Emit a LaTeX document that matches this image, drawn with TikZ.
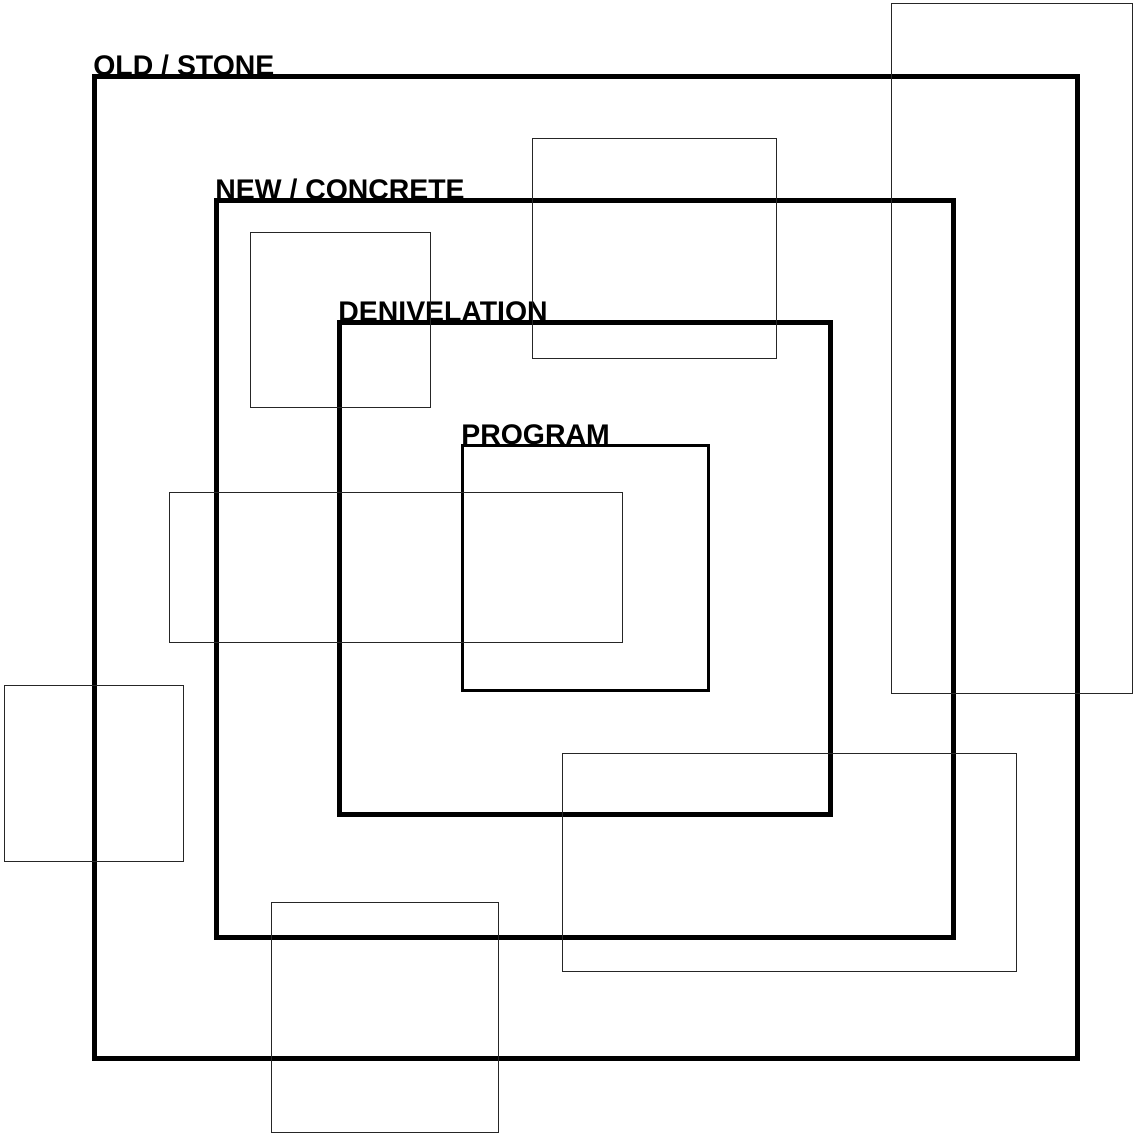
\documentclass[tikz,border=0pt]{standalone}
\usepackage{fontspec}
\setmainfont{Liberation Sans}
\begin{document}
\begin{tikzpicture}[x=0.5pt, y=-0.5pt,
  layerbox/.style={line width=2.5pt},
  progbox/.style={line width=1.5pt},
  thinbox/.style={line width=0.5pt, black!85},
  boxlabel/.style={anchor=base west, inner sep=0pt, font=\fontsize{14.2}{16}\selectfont\bfseries}]

\useasboundingbox (0,0) rectangle (1136,1136);

% layers
\draw[layerbox] (94,76) rectangle (1077,1058); % old
\draw[layerbox] (216,200) rectangle (953,937); % new
\draw[layerbox] (339,322) rectangle (830,814); % denivelation
\draw[progbox] (462,445) rectangle (708,690); % program

% labels
\node[boxlabel] (old) at (93,75) {OLD / STONE};
\node[boxlabel] (new) at (215,199) {NEW / CONCRETE};
\node[boxlabel] (deniv) at (338,321) {DENIVELATION};
\node[boxlabel] (prog) at (461,444) {PROGRAM};

% loose boxes
\draw[thinbox] (891,3) rectangle (1132,693);
\draw[thinbox] (532,138) rectangle (776,358);
\draw[thinbox] (250,232) rectangle (430,407);
\draw[thinbox] (169,492) rectangle (622,642);
\draw[thinbox] (4,685) rectangle (183,861);
\draw[thinbox] (271,902) rectangle (498,1132);
\draw[thinbox] (562,753) rectangle (1016,971);

\end{tikzpicture}
\end{document}
